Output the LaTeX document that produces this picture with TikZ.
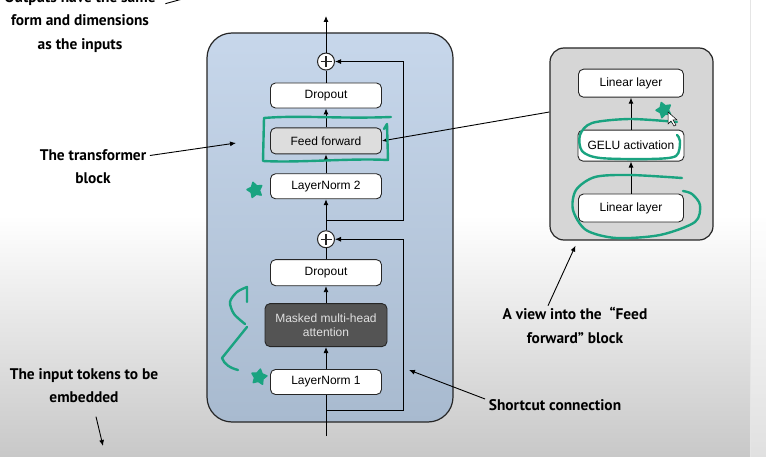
\documentclass[tikz,border=0pt]{standalone}
\usepackage{fontspec}
\setmainfont{Liberation Sans}
\newfontfamily\notefont{PT Sans}
\usetikzlibrary{arrows.meta,positioning,shapes.geometric}
\definecolor{blocktop}{RGB}{199,215,235}
\definecolor{blockbot}{RGB}{168,186,207}
\definecolor{viewgray}{RGB}{214,214,214}
\definecolor{ffgray}{RGB}{221,221,221}
\definecolor{attgray}{RGB}{84,84,84}
\definecolor{annot}{RGB}{26,163,128}

\begin{document}
\begin{tikzpicture}[x=1pt,y=-1pt,font=\fontsize{12}{14}\selectfont,
  box/.style={draw=black!85,line width=0.9pt,rounded corners=5pt,align=center,minimum width=111pt,minimum height=25pt,fill=white,inner sep=2pt},
  sumnode/.style={circle,draw=black!85,line width=1pt,fill=white,minimum size=17pt,inner sep=0pt,
    path picture={\draw[line width=1.3pt] ([xshift=-5.5pt]path picture bounding box.center) -- ([xshift=5.5pt]path picture bounding box.center)
      ([yshift=-5.5pt]path picture bounding box.center) -- ([yshift=5.5pt]path picture bounding box.center);}},
  frame/.style={draw=black!85,line width=1.2pt},
  note/.style={font=\notefont\bfseries\fontsize{15.4}{23.5}\selectfont,align=center},
  pen/.style={draw=annot,line width=2.4pt,line cap=round,line join=round},
  starmark/.style={star,star points=5,star point ratio=1.8,fill=annot,draw=annot,line width=1.5pt,line join=round,minimum size=16pt,inner sep=0pt},
  line width=0.9pt,>={Latex[length=6pt,width=5pt]}]
\useasboundingbox (0,0) rectangle (766,457);
\fill[white] (0,0) rectangle (766,457);
\shade[top color=white,bottom color={rgb,255:red,200;green,200;blue,200}] (0,215) rectangle (766,457);
\fill[white,opacity=0.45] (750,0) rectangle (766,457);
\draw[black!10,line width=0.5pt] (750,0) -- (750,457);

\node[frame,rounded corners=25pt,top color=blocktop,bottom color=blockbot,minimum width=246pt,minimum height=389pt] (tblock) at (330,227.5) {};
\node[frame,rounded corners=14pt,fill=viewgray,minimum width=163pt,minimum height=192pt] (ffview) at (631.5,144) {};

\node[box] (ln1) at (326,382) {LayerNorm 1};
\node[box,fill=attgray,text=white!88!black,minimum width=122pt,minimum height=43pt,above=22pt of ln1] (mha) {Masked multi-head\\attention};
\node[box,minimum height=26pt,above=17pt of mha] (drop1) {Dropout};
\node[sumnode,above=11pt of drop1] (sum1) {};
\node[box,above=31pt of sum1] (ln2) {LayerNorm 2};
\node[box,fill=ffgray,minimum height=26pt,above=19pt of ln2] (ff) {Feed forward};
\node[box,above=19pt of ff] (drop2) {Dropout};
\node[sumnode,above=12pt of drop2] (sum2) {};
\coordinate (outtop) at (326,16);
\coordinate (inbot) at (326,436);
\coordinate (br1) at (326,410);
\coordinate (rt1) at (403,410);
\coordinate (br2) at (326,220);
\coordinate (rt2) at (403,220);

\node[box,minimum width=105pt,minimum height=28pt] (lin1) at (631,208) {Linear layer};
\node[box,minimum width=106pt,minimum height=31pt,above=32pt of lin1] (gelu) {GELU activation};
\node[box,minimum width=105pt,minimum height=28pt,above=32pt of gelu] (lin2) {Linear layer};

\draw (inbot) -- (ln1);
\draw[->] (ln1) -- (mha);
\draw[->] (mha) -- (drop1);
\draw (drop1) -- (sum1);
\draw[->] (sum1) -- (ln2);
\draw[->] (ln2) -- (ff);
\draw[->] (ff) -- (drop2);
\draw (drop2) -- (sum2);
\draw[->] (sum2) -- (outtop);
\draw[->] (br1) -- (rt1) |- (sum1);
\draw[->] (br2) -- (rt2) |- (sum2);
\draw[->] (lin1) -- (gelu);
\draw[->] (gelu) -- (lin2);
\draw[->] ([yshift=32pt]ffview.west) -- (ff.east);

\node[note] (outlbl) at (80,22) {Outputs have the same\\form and dimensions\\as the inputs};
\node[note] (trlbl) at (93,166.5) {The transformer\\block};
\node[note] (inlbl) at (84,385.5) {The input tokens to be\\embedded};
\node[note] (vwlbl) at (575,325.5) {A view into the~ “Feed\\forward” block};
\node[note] (sclbl) at (555,405) {Shortcut connection};
\coordinate (outhead) at (230,-14);
\coordinate (trhead) at (236,143);
\coordinate (inhead) at (103,446);
\coordinate (schead) at (409,370);
\draw (outlbl.north east) ++(6,16) -- (outhead);
\draw[->] ([yshift=11pt]trlbl.east) -- (trhead);
\draw[->] ([xshift=12pt,yshift=-10pt]inlbl.south) -- (inhead);
\draw[->] ([xshift=-27pt,yshift=-2pt]vwlbl.north) -- ([xshift=-56pt,yshift=-5pt]ffview.south);
\draw[->] ([yshift=6pt]sclbl.west) -- (schead);

\draw[pen] (391,117) .. controls (340,119) and (300,115) .. (264,118) -- (263,161)
  .. controls (300,163) and (350,158) .. (388,160) -- (387,124) -- (384,129);
\draw[pen] (238,370) .. controls (230,368) and (224,364) .. (222,358) -- (247,327);
\draw[pen] plot[smooth] coordinates {(245,324) (234,314) (230,302) (237,292) (247,287)} -- (247,302);
\draw[pen] plot[smooth] coordinates {(677,122) (630,119) (592,123) (580,135) (582,151) (600,158) (650,159) (676,156) (680,141) (677,135)};
\draw[pen] plot[smooth] coordinates {(682,178) (630,175) (595,177) (576,190) (573,210) (586,230) (616,238) (660,235) (695,222) (700,205) (692,194) (683,191)};
\node[starmark,rotate=15] (mk1) at (255,190) {};
\node[starmark,rotate=-10] (mk2) at (259,377) {};
\node[starmark,rotate=20] (mk3) at (664,110) {};
\draw[fill=white,line width=0.5pt] (668,112) -- (668,124) -- (671,121) -- (674,126) -- (676,125) -- (673,120) -- (677,120) -- cycle;
\end{tikzpicture}
\end{document}
